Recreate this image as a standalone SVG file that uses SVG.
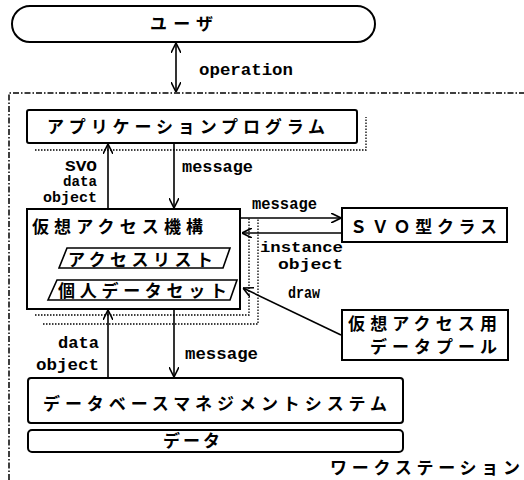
<svg xmlns="http://www.w3.org/2000/svg" width="524" height="480" viewBox="0 0 524 480">
<defs>
<marker id="ah" viewBox="0 0 10 10" refX="10" refY="5" markerWidth="10" markerHeight="10" markerUnits="userSpaceOnUse" orient="auto-start-reverse">
<path d="M0,0 L10,5 L0,10" fill="none" stroke="#000" stroke-width="1.6"/>
</marker>
<style>
.box{fill:#fff;stroke:#000;stroke-width:2}
.dot{fill:none;stroke:#000;stroke-width:1.3;stroke-dasharray:1.5 1.5}
.ln{fill:none;stroke:#000;stroke-width:1.6}
.jp{font-family:"Noto Sans CJK JP","Noto Sans CJK SC",sans-serif;font-weight:700;font-size:17px;fill:#000}
.en{font-family:"Liberation Mono","DejaVu Sans Mono",monospace;font-weight:700;font-size:16px;fill:#000}
.sm{font-size:14px}
</style>
</defs>
<rect width="524" height="480" fill="#fff"/>
<g id="workstation">
<path d="M9,480 V93 H524" fill="none" stroke="#000" stroke-width="1.5" stroke-dasharray="6 2 1.5 2"/>
<text class="jp" x="330" y="474" textLength="190" lengthAdjust="spacing">ワークステーション</text>
</g>
<g id="user">
<rect class="box" x="12" y="6" width="363" height="36" rx="18"/>
<text class="jp" x="150" y="30" textLength="63" lengthAdjust="spacing">ユーザ</text>
</g>
<g id="app">
<path class="dot" d="M35,150 H366 V117"/>
<rect class="box" x="27" y="110" width="330" height="33" rx="2"/>
<text class="jp" x="47" y="133" textLength="278" lengthAdjust="spacing">アプリケーションプログラム</text>
</g>
<g id="vam">
<path class="dot" d="M35,315 H249 V218"/>
<path class="dot" d="M43,324 H258 V218"/>
<rect class="box" x="27" y="209" width="213" height="100"/>
<text class="jp" x="32" y="233" textLength="171" lengthAdjust="spacing">仮想アクセス機構</text>
<g id="accesslist">
<path d="M67,248 H230 L223,268 H59 Z" fill="none" stroke="#000" stroke-width="1.6"/>
<text class="jp" x="68" y="266" textLength="145" lengthAdjust="spacing">アクセスリスト</text>
</g>
<g id="personal">
<path d="M57,280 H237 L230,300 H48 Z" fill="none" stroke="#000" stroke-width="1.6"/>
<text class="jp" x="58" y="297" textLength="169" lengthAdjust="spacing">個人データセット</text>
</g>
</g>
<g id="svo">
<rect class="box" x="342" y="208" width="165" height="34"/>
<text class="jp" x="350" y="233" textLength="147" lengthAdjust="spacing">ＳＶＯ型クラス</text>
</g>
<g id="pool">
<rect class="box" x="342" y="310" width="166" height="50"/>
<text class="jp" x="348" y="330" textLength="149" lengthAdjust="spacing">仮想アクセス用</text>
<text class="jp" x="370" y="353" textLength="127" lengthAdjust="spacing">データプール</text>
</g>
<g id="dbms">
<rect class="box" x="28" y="378" width="375" height="45" rx="3"/>
<text class="jp" x="43" y="410" textLength="344" lengthAdjust="spacing">データベースマネジメントシステム</text>
</g>
<g id="data">
<rect class="box" x="28" y="430" width="375" height="22" rx="4"/>
<text class="jp" x="163" y="447" textLength="57" lengthAdjust="spacing">データ</text>
</g>
<g id="connectors">
<line class="ln" x1="176" y1="43" x2="176" y2="92" marker-start="url(#ah)" marker-end="url(#ah)"/>
<text class="en" x="199" y="75" textLength="94" lengthAdjust="spacingAndGlyphs">operation</text>
<line class="ln" x1="108" y1="209" x2="108" y2="144" marker-end="url(#ah)"/>
<text class="en sm" x="65" y="171" textLength="32" lengthAdjust="spacingAndGlyphs">SVO</text>
<text class="en sm" x="63" y="186" textLength="34" lengthAdjust="spacingAndGlyphs">data</text>
<text class="en sm" x="43" y="202" textLength="54" lengthAdjust="spacingAndGlyphs">object</text>
<line class="ln" x1="174" y1="143" x2="174" y2="208" marker-end="url(#ah)"/>
<text class="en" x="182" y="172" textLength="71" lengthAdjust="spacingAndGlyphs">message</text>
<line class="ln" x1="241" y1="218" x2="341" y2="218" marker-end="url(#ah)"/>
<text class="en" x="252" y="209" textLength="65" lengthAdjust="spacingAndGlyphs">message</text>
<line class="ln" x1="341" y1="233" x2="242" y2="233" marker-end="url(#ah)"/>
<text class="en sm" x="260" y="252" textLength="83" lengthAdjust="spacingAndGlyphs">instance</text>
<text class="en sm" x="278" y="269" textLength="65" lengthAdjust="spacingAndGlyphs">object</text>
<line class="ln" x1="341" y1="335" x2="243" y2="288" marker-end="url(#ah)"/>
<text class="en" x="288" y="298" textLength="32" lengthAdjust="spacingAndGlyphs">draw</text>
<line class="ln" x1="108" y1="378" x2="108" y2="310" marker-end="url(#ah)"/>
<text class="en" x="58" y="348" textLength="41" lengthAdjust="spacingAndGlyphs">data</text>
<text class="en" x="36" y="370" textLength="63" lengthAdjust="spacingAndGlyphs">object</text>
<line class="ln" x1="174" y1="310" x2="174" y2="377" marker-end="url(#ah)"/>
<text class="en" x="185" y="359" textLength="73" lengthAdjust="spacingAndGlyphs">message</text>
</g>
</svg>
